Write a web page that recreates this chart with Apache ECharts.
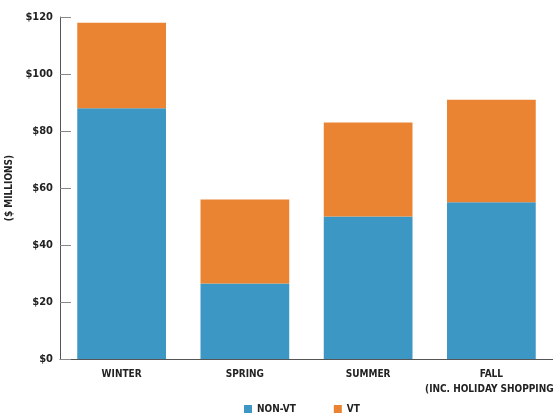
<!DOCTYPE html>
<html>
<head>
<meta charset="utf-8">
<script src="https://cdn.jsdelivr.net/npm/echarts@6/dist/echarts.min.js"></script>
<style>
  html, body { margin: 0; padding: 0; background: #fff; }
  #chart { width: 553px; height: 413px; }
</style>
</head>
<body>
<div id="chart"></div>
<script>
const seasons = ["WINTER", "SPRING", "SUMMER", "FALL\n(INC. HOLIDAY SHOPPING)"]
const nonVt = [88, 26.5, 50, 55]
const vt = [30, 29.5, 33, 36]
const yTicks = [0, 20, 40, 60, 80, 100, 120]

const font = "'DejaVu Sans Condensed', 'Liberation Sans Narrow', sans-serif"
const chart = echarts.init(document.getElementById("chart"))

chart.setOption({
  animation: false,
  textStyle: { fontFamily: font },
  grid: { left: 60, right: 0, top: 17, bottom: 54, outerBoundsMode: "none", containLabel: false },
  legend: {
    top: 399,
    left: 239,
    itemWidth: 8,
    itemHeight: 8,
    itemGap: 38,
    icon: "rect",
    textStyle: { fontFamily: font, fontWeight: "bold", fontSize: 10, color: "#222" },
    data: ["NON-VT", "VT"]
  },
  xAxis: {
    type: "category",
    data: seasons,
    axisLine: { lineStyle: { color: "#555" } },
    axisTick: { inside: true, length: 7, lineStyle: { color: "#777" } },
    axisLabel: {
      interval: 0,
      fontFamily: font, fontWeight: "bold", fontSize: 10, color: "#222",
      lineHeight: 15, margin: 8
    }
  },
  yAxis: {
    type: "value",
    min: yTicks[0],
    max: yTicks[yTicks.length - 1],
    interval: 20,
    name: "($ MILLIONS)",
    nameLocation: "middle",
    nameGap: 42,
    nameTextStyle: { fontFamily: font, fontWeight: "bold", fontSize: 10, color: "#222" },
    axisLine: { show: true, lineStyle: { color: "#555" } },
    axisTick: { show: true, inside: true, length: 11, lineStyle: { color: "#888" } },
    splitLine: { show: false },
    axisLabel: {
      fontFamily: font, fontWeight: "bold", fontSize: 11, color: "#222", margin: 7,
      formatter: v => "$" + v
    }
  },
  series: [
    {
      name: "NON-VT", type: "bar", stack: "total", data: nonVt,
      barWidth: "72%", itemStyle: { color: "#3d97c5" }
    },
    {
      name: "VT", type: "bar", stack: "total", data: vt,
      barWidth: "72%", itemStyle: { color: "#ea8432" }
    }
  ]
})
</script>
</body>
</html>
